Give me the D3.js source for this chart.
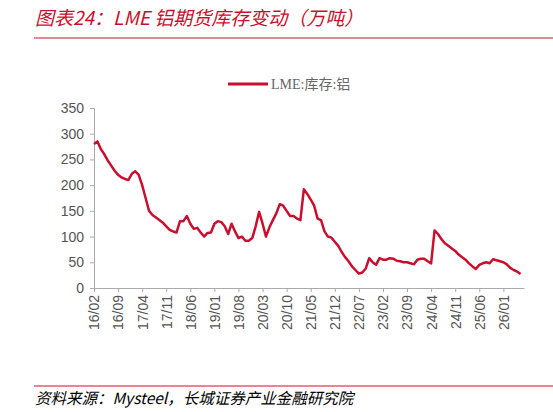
<!DOCTYPE html>
<html>
<head>
<meta charset="UTF-8">
<script src="https://d3js.org/d3.v7.min.js"></script>
<style>
  body { margin: 0; background: #fff; }
  svg text { font-family: "Liberation Sans", Arial, sans-serif; }
</style>
</head>
<body>
<svg id="chart" width="553" height="412"></svg>
<script>
// monthly LME aluminium stocks (10k tonnes), starting 2016/02
const startMonth = "2016-02";
const stocks = [280, 285, 270, 260, 248, 238, 228, 220, 215, 212, 210, 222, 227, 220, 200, 175, 150, 142, 137, 132,
  127, 120, 113, 110, 108, 130, 130, 140, 125, 115, 117, 108, 100, 107, 108, 125, 130, 128, 120, 105,
  125, 110, 97, 100, 92, 92, 97, 120, 148, 125, 100, 118, 132, 145, 163, 160, 150, 140, 140, 135,
  132, 192, 183, 172, 160, 135, 132, 110, 100, 98, 90, 82, 70, 60, 52, 42, 35, 28, 30, 38,
  58, 50, 45, 58, 55, 55, 58, 57, 53, 52, 50, 50, 48, 46, 55, 57, 57, 52, 48, 112,
  105, 95, 87, 82, 77, 72, 65, 60, 55, 48, 42, 37, 45, 48, 50, 48, 56, 54, 52, 50,
  46, 39, 35, 32, 27];
const tickLabels = ["16/02","16/09","17/04","17/11","18/06","19/01","19/08","20/03","20/10","21/05",
  "21/12","22/07","23/02","23/09","24/04","24/11","25/06","26/01"];
const yTicks = [0, 50, 100, 150, 200, 250, 300, 350];

const red = "#c8102e";
const svg = d3.select("#chart");
const x = d3.scaleLinear().domain([0, 125]).range([94, 524]);
const y = d3.scaleLinear().domain([0, 350]).range([288, 108]);

// title + rules
svg.append("text").attr("x", 35).attr("y", 25).attr("fill", red)
  .style("font-size", "19px").style("font-style", "italic")
  .style("font-family", "'Noto Sans CJK SC', sans-serif")
  .text("图表24：LME 铝期货库存变动（万吨）");
svg.append("line").attr("x1", 34).attr("x2", 553).attr("y1", 38).attr("y2", 38)
  .attr("stroke", red).attr("stroke-width", 1);
svg.append("line").attr("x1", 34).attr("x2", 553).attr("y1", 386).attr("y2", 386)
  .attr("stroke", red).attr("stroke-width", 1);
svg.append("text").attr("x", 35).attr("y", 404).attr("fill", "#000")
  .style("font-size", "15.5px").style("font-style", "italic")
  .style("font-family", "'Noto Sans CJK SC', sans-serif")
  .text("资料来源：Mysteel，长城证券产业金融研究院");

// legend
svg.append("line").attr("x1", 228).attr("x2", 268).attr("y1", 84).attr("y2", 84)
  .attr("stroke", red).attr("stroke-width", 3);
svg.append("text").attr("x", 271).attr("y", 89).attr("fill", "#666")
  .style("font-size", "14px").style("font-family", "'Liberation Serif', 'Noto Sans CJK SC', serif")
  .text("LME:库存:铝");

// y axis
const yAxis = svg.append("g").attr("transform", "translate(94,0)")
  .call(d3.axisLeft(y).tickValues(yTicks).tickSize(4).tickPadding(6));
yAxis.selectAll("text").attr("fill", "#555").style("font-size", "14px");
yAxis.selectAll("line, path").attr("stroke", "#aaa");

// x axis
const tickPos = tickLabels.map((d, i) => i * 7);
const xAxis = svg.append("g").attr("transform", "translate(0,288)")
  .call(d3.axisBottom(x).tickValues(tickPos).tickFormat((d, i) => tickLabels[i]).tickSize(4).tickSizeOuter(0));
xAxis.selectAll("line, path").attr("stroke", "#aaa");
xAxis.selectAll("text").attr("fill", "#555").style("font-size", "14px")
  .attr("transform", "rotate(-90)").attr("text-anchor", "end")
  .attr("x", -7).attr("y", 0).attr("dy", "0.35em");

// line
svg.append("path").datum(stocks)
  .attr("fill", "none").attr("stroke", red).attr("stroke-width", 2.5)
  .attr("stroke-linejoin", "round")
  .attr("d", d3.line().x((d, i) => x(i)).y(d => y(d)));
</script>
</body>
</html>
